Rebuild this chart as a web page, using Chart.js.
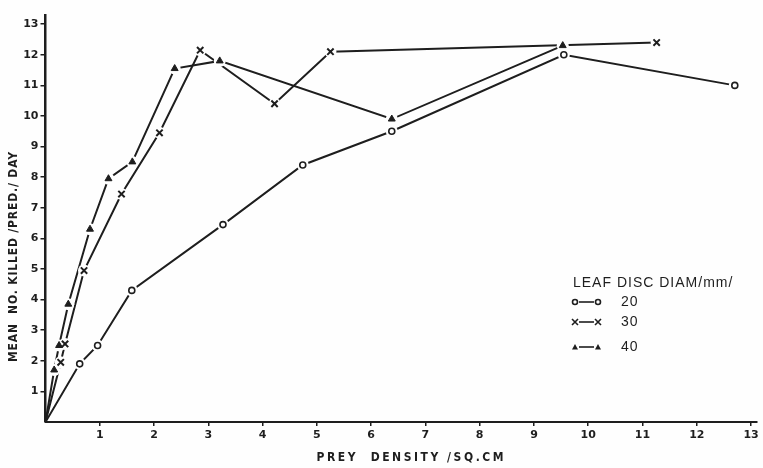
<!DOCTYPE html>
<html>
<head>
<meta charset="utf-8">
<script src="https://cdn.jsdelivr.net/npm/chart.js@4/dist/chart.umd.min.js"></script>
<style>
  html, body { margin: 0; padding: 0; background: #fefefe; }
  #wrap { width: 763px; height: 468px; position: relative; }
</style>
</head>
<body>
<div id="wrap"><canvas id="predChart"></canvas></div>
<script>
// prey density (per sq.cm) and mean number killed per predator per day
const density20 = [0, 0.63, 0.96, 1.59, 3.27, 4.74, 6.38, 9.55, 12.7];
const killed20  = [0, 1.9, 2.5, 4.3, 6.45, 8.4, 9.5, 12.0, 11.0];

const density30 = [0, 0.28, 0.36, 0.71, 1.40, 2.10, 2.85, 4.22, 5.25, 11.26];
const killed30  = [0, 1.95, 2.55, 4.95, 7.45, 9.45, 12.15, 10.4, 12.1, 12.4];

const density40 = [0, 0.16, 0.25, 0.42, 0.82, 1.16, 1.60, 2.38, 3.21, 6.38, 9.53];
const killed40  = [0, 1.7, 2.5, 3.85, 6.3, 7.95, 8.5, 11.55, 11.8, 9.9, 12.3];

const xTicks = [1, 2, 3, 4, 5, 6, 7, 8, 9, 10, 11, 12, 13];
const yTicks = [1, 2, 3, 4, 5, 6, 7, 8, 9, 10, 11, 12, 13];

const ink = '#1e1e1e';
const paper = '#fefefe';

function pts(xs, ys) {
    return xs.map((x, i) => ({ x: x, y: ys[i] }));
}

// no marker at the origin
const skipFirst = r => ctx => ctx.dataIndex === 0 ? 0 : r;

// each series: the line, a white halo to break the line at markers, then the marker
function seriesSets(label, data, style) {
    return [
        { label: label, data: data, showLine: true, borderColor: ink, borderWidth: 2,
          pointRadius: 0, order: 3 },
        { label: label + ' gap', data: data, showLine: false, pointStyle: 'circle',
          pointRadius: skipFirst(6), backgroundColor: paper, borderWidth: 0, order: 2 },
        { label: label + ' mark', data: data, showLine: false, pointStyle: style.shape,
          pointRadius: skipFirst(style.r), backgroundColor: style.fill,
          borderColor: ink, borderWidth: style.bw, order: 1 }
    ];
}

const datasets = [].concat(
    seriesSets('20', pts(density20, killed20), { shape: 'circle', r: 3, fill: paper, bw: 1.6 }),
    seriesSets('30', pts(density30, killed30), { shape: 'crossRot', r: 4.5, fill: ink, bw: 2 }),
    seriesSets('40', pts(density40, killed40), { shape: 'triangle', r: 4, fill: ink, bw: 1 })
);

// centred text spread to a given width
function spreadText(ctx, text, x, y, width) {
    ctx.letterSpacing = '0px';
    const w = ctx.measureText(text).width;
    const gap = Math.max(0, (width - w) / (text.length - 1));
    ctx.letterSpacing = gap + 'px';
    ctx.textAlign = 'center';
    ctx.fillText(text, x + gap / 2, y);
}

const titlesPlugin = {
    id: 'titles',
    afterDraw(chart) {
        const ctx = chart.ctx;
        ctx.save();
        ctx.fillStyle = ink;
        ctx.font = 'bold 12px "DejaVu Sans Condensed", "DejaVu Sans"';
        ctx.textBaseline = 'middle';
        spreadText(ctx, 'PREY  DENSITY /SQ.CM', 410, 458, 187);
        ctx.translate(14, 257);
        ctx.rotate(-Math.PI / 2);
        spreadText(ctx, 'MEAN  NO. KILLED /PRED./ DAY', 0, 0, 210);
        ctx.restore();

        // key
        ctx.save();
        ctx.fillStyle = ink;
        ctx.strokeStyle = ink;
        ctx.font = '14px "Liberation Sans"';
        ctx.textBaseline = 'middle';
        ctx.textAlign = 'left';
        ctx.letterSpacing = '1px';
        ctx.fillText('LEAF DISC DIAM/mm/', 573, 283);
        const rows = [['20', 302, 'o'], ['30', 322, 'x'], ['40', 347, 't']];
        rows.forEach(([txt, y, m]) => {
            ctx.lineWidth = 1.6;
            ctx.beginPath();
            ctx.moveTo(579, y); ctx.lineTo(594, y);
            ctx.stroke();
            [575, 598].forEach(cx => {
                ctx.beginPath();
                if (m === 'o') {
                    ctx.arc(cx, y, 2.5, 0, Math.PI * 2);
                    ctx.stroke();
                } else if (m === 'x') {
                    ctx.moveTo(cx - 3, y - 3); ctx.lineTo(cx + 3, y + 3);
                    ctx.moveTo(cx + 3, y - 3); ctx.lineTo(cx - 3, y + 3);
                    ctx.stroke();
                } else {
                    ctx.moveTo(cx, y - 3); ctx.lineTo(cx + 3, y + 2.5); ctx.lineTo(cx - 3, y + 2.5);
                    ctx.closePath();
                    ctx.fill();
                }
            });
            ctx.fillText(txt, 621, y);
        });
        ctx.restore();
    }
};

new Chart(document.getElementById('predChart'), {
    type: 'scatter',
    data: { datasets: datasets },
    options: {
        responsive: true,
        maintainAspectRatio: false,
        animation: false,
        events: [],
        layout: { padding: { top: 15, right: 3, left: 0, bottom: 0 } },
        plugins: { legend: { display: false }, tooltip: { enabled: false } },
        scales: {
            x: {
                type: 'linear', min: 0, max: 13.1,
                afterBuildTicks: s => { s.ticks = xTicks.map(v => ({ value: v })); },
                afterFit: s => { s.height = 46; s.paddingLeft = 0; s.paddingRight = 0; },
                grid: { drawOnChartArea: false, drawTicks: true, tickLength: 4, color: ink, lineWidth: 1.5 },
                border: { color: ink, width: 2 },
                ticks: { color: ink, padding: 3, maxRotation: 0, autoSkip: false,
                         font: { family: 'DejaVu Sans', size: 11, weight: 'bold' } }
            },
            y: {
                type: 'linear', min: 0, max: 13.3,
                afterBuildTicks: s => { s.ticks = yTicks.map(v => ({ value: v })); },
                afterFit: s => { s.width = 45.5; s.paddingTop = 0; s.paddingBottom = 0; },
                grid: { drawOnChartArea: false, drawTicks: true, tickLength: 5, color: ink, lineWidth: 1.5 },
                border: { color: ink, width: 2.5 },
                ticks: { color: ink, padding: 2, autoSkip: false,
                         font: { family: 'DejaVu Sans', size: 11, weight: 'bold' } }
            }
        }
    },
    plugins: [titlesPlugin]
});
</script>
</body>
</html>
